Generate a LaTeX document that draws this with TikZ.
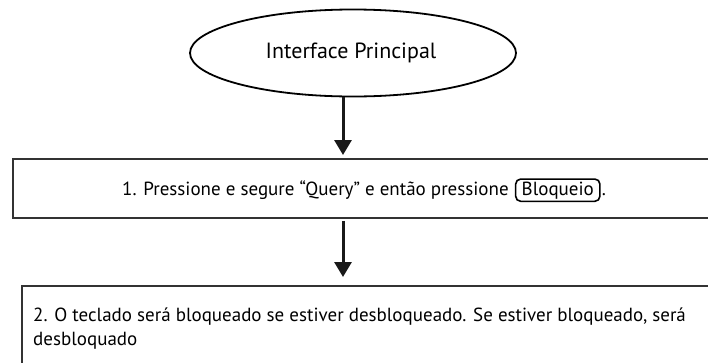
\documentclass[tikz,border=0pt]{standalone}
\usepackage{fontspec}
\setmainfont{PT Sans}
\usetikzlibrary{arrows.meta,shapes.geometric,calc}
\tikzset{
  frame/.style={draw=black!80, line width=1.8pt, rectangle, inner sep=0pt},
  flowarrow/.style={draw=black!90, line width=3pt, -{Triangle[width=17pt,length=15pt]}},
  steptext/.style={font=\fontsize{19pt}{24pt}\selectfont, inner sep=0pt},
  keybox/.style={draw=black, line width=1.6pt, rounded corners=5pt, inner xsep=6pt, inner ysep=2.5pt, font=\fontsize{19pt}{22pt}\selectfont}
}
\begin{document}
\begin{tikzpicture}[x=1pt,y=-1pt]
\useasboundingbox (0,0) rectangle (708,362);
\clip (0,0) rectangle (708,362);
% ellipse
\node[draw=black, line width=1.8pt, ellipse, minimum width=326pt, minimum height=87pt, inner sep=0pt] (start) at (353,53) {};
\node[font=\fontsize{22pt}{26pt}\selectfont, inner sep=0pt] (starttxt) at (351,53) {Interface Principal};
% box 1
\node[frame, minimum width=724pt, minimum height=59pt, anchor=north west] (b1) at (12,158) {};
\node[steptext, anchor=base west] (t1) at (122,195) {1. Pressione e segure “Query” e então pressione};
\node[keybox, anchor=base west] (key) at ($(t1.base east)+(6,0)$) {Bloqueio};
\node[steptext, anchor=base west] (t1end) at ($(key.base east)+(1,0)$) {.};
% box 2
\node[frame, minimum width=720pt, minimum height=120pt, anchor=north west] (b2) at (21,285) {};
\node[steptext, anchor=base west, align=left] (t2) at (33,345) {2. O teclado será bloqueado se estiver desbloqueado. Se estiver bloqueado, será\\desbloquado};
% arrows
\coordinate (ax) at (343,0);
\draw[flowarrow] (start.south -| ax) -- ($(b1.north -| ax)+(0,-3)$);
\draw[flowarrow] ($(b1.south -| ax)+(0,2)$) -- ($(b2.north -| ax)+(0,-8)$);
\end{tikzpicture}
\end{document}
